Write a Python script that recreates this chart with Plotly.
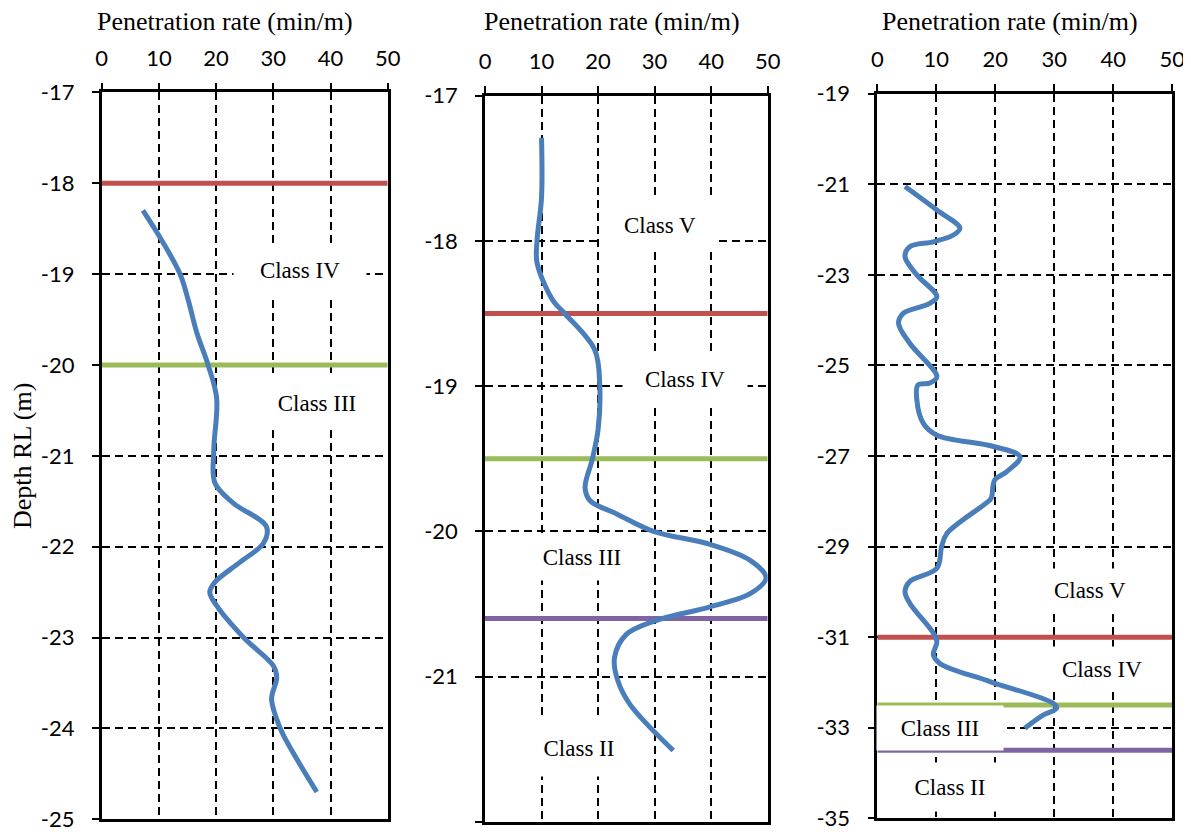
import plotly.graph_objects as go

# ---------------- data ----------------
# Panel 1
p1_rate = [7.2, 10.5, 13.7, 15.1, 16.6, 18.6, 20.1, 19.6, 19.8, 23.0, 28.8, 28.3, 24.2, 19.8, 18.9, 20.1, 24.8, 30.0, 30.6, 29.7, 30.6, 31.8, 37.6]
p1_depth = [-18.3, -18.63, -19.0, -19.28, -19.64, -20.0, -20.37, -20.93, -21.3, -21.52, -21.78, -21.96, -22.17, -22.39, -22.5, -22.65, -23.0, -23.31, -23.44, -23.67, -23.9, -24.08, -24.7]
p1_bounds = [-18.0, -20.0]
p1_bound_colors = ["#c0504d", "#9bbb59"]
p1_labels = ["Class IV", "Class III"]
p1_label_x = [34.7, 37.6]
p1_label_y = [-18.95, -20.42]
p1_yticks = [-17, -18, -19, -20, -21, -22, -23, -24, -25]

# Panel 2
p2_rate = [10.0, 10.0, 9.2, 9.2, 12.0, 14.1, 19.4, 20.3, 20.0, 19.0, 17.7, 18.6, 23.3, 29.8, 39.8, 46.9, 49.7, 46.9, 39.8, 29.8, 25.0, 22.9, 23.5, 25.6, 33.3]
p2_depth = [-17.29, -17.7, -18.0, -18.15, -18.41, -18.5, -18.75, -19.0, -19.3, -19.5, -19.7, -19.79, -19.88, -20.0, -20.09, -20.2, -20.32, -20.43, -20.52, -20.62, -20.71, -20.87, -21.03, -21.19, -21.51]
p2_bounds = [-18.5, -19.5, -20.6]
p2_bound_colors = ["#c0504d", "#9bbb59", "#8064a2"]
p2_labels = ["Class V", "Class IV", "Class III", "Class II"]
p2_label_x = [31.0, 35.4, 17.2, 16.6]
p2_label_y = [-17.89, -18.95, -20.18, -21.49]
p2_yticks = [-17, -18, -19, -20, -21, -22]

# Panel 3
p3_rate = [4.7, 10.1, 14.0, 12.9, 9.5, 5.5, 4.7, 6.7, 10.1, 8.9, 4.4, 3.6, 5.5, 10.1, 8.9, 6.9, 6.7, 7.8, 10.1, 19.7, 24.2, 21.9, 19.9, 19.4, 19.1, 11.8, 10.9, 10.1, 5.5, 4.7, 5.5, 9.5, 10.1, 9.5, 10.6, 19.1, 29.8, 30.4, 28.1, 25.0]
p3_depth = [-21.05, -21.57, -21.97, -22.12, -22.27, -22.38, -22.6, -23.0, -23.48, -23.63, -23.85, -24.07, -24.51, -25.25, -25.39, -25.43, -25.76, -26.28, -26.54, -26.79, -27.02, -27.35, -27.53, -27.9, -27.97, -28.71, -29.0, -29.48, -29.77, -30.0, -30.25, -30.91, -31.1, -31.39, -31.58, -31.98, -32.46, -32.57, -32.72, -33.01]
p3_bounds = [-31.0, -32.5, -33.5]
p3_bound_colors = ["#c0504d", "#9bbb59", "#8064a2"]
p3_labels = ["Class V", "Class IV", "Class III", "Class II"]
p3_label_x = [36.0, 38.1, 10.6, 12.3]
p3_label_y = [-29.96, -31.7, -33.0, -34.31]
p3_yticks = [-19, -21, -23, -25, -27, -29, -31, -33, -35]

x_ticks = [0, 10, 20, 30, 40, 50]
y_ranges = [[-25, -17], [-22, -17], [-35, -19]]
x_title = "Penetration rate (min/m)"
y_title = "Depth RL (m)"

# ---------------- layout helpers ----------------
PAGE_W, PAGE_H = 1191, 832
OFF = 8  # default body margin of the html page
W, H = PAGE_W - OFF, PAGE_H - OFF
px_boxes = [  # x0, x1, y0(top), y1(bottom) in page pixels
    (101.7, 387.7, 92.3, 819.3),
    (485.0, 767.7, 95.7, 821.7),
    (877.3, 1172.3, 93.7, 818.3),
]
title_px = [(225, 22), (612, 22), (1010, 22)]  # x-title centres in page pixels
# label box sizes (pixels) per panel
box_sizes = [
    [(132, 52), (124, 50)],
    [(116, 52), (124, 50), (124, 46), (116, 56)],
    [(116, 42), (124, 44), (126, 44), (116, 48)],
]

SERIF = "Liberation Serif, Times New Roman, serif"
SANS = "Lato, Carlito, Calibri, sans-serif"
BLUE = "#4a7ebb"

panels = [
    (p1_rate, p1_depth, p1_bounds, p1_bound_colors, p1_labels, p1_label_x, p1_label_y, p1_yticks),
    (p2_rate, p2_depth, p2_bounds, p2_bound_colors, p2_labels, p2_label_x, p2_label_y, p2_yticks),
    (p3_rate, p3_depth, p3_bounds, p3_bound_colors, p3_labels, p3_label_x, p3_label_y, p3_yticks),
]

fig = go.Figure()
annotations = []
layout = {}
for i, (rate, depth, bounds, bcols, labels, lx, ly, yt) in enumerate(panels):
    n = "" if i == 0 else str(i + 1)
    xa, ya = "x" + n, "y" + n
    for b, c in zip(bounds, bcols):
        fig.add_trace(go.Scatter(x=[x_ticks[0], x_ticks[-1]], y=[b, b], mode="lines",
                                 line=dict(color=c, width=5), xaxis=xa, yaxis=ya,
                                 showlegend=False, hoverinfo="skip"))
    fig.add_trace(go.Scatter(x=rate, y=depth, mode="lines",
                             line=dict(color=BLUE, width=5, shape="spline", smoothing=1.0),
                             xaxis=xa, yaxis=ya, showlegend=False))
    for j, (t, x, y) in enumerate(zip(labels, lx, ly)):
        w, h = box_sizes[i][j]
        annotations.append(dict(x=x, y=y, xref=xa, yref=ya, text=t, showarrow=False,
                                font=dict(family=SERIF, size=23, color="black"),
                                bgcolor="white", width=w, height=h, borderpad=0))
    tx, ty = title_px[i]
    annotations.append(dict(x=(tx - OFF) / W, y=1 - (ty - OFF) / H, xref="paper", yref="paper",
                            text=x_title, showarrow=False, xanchor="center", yanchor="middle",
                            font=dict(family=SERIF, size=26, color="black")))
    x0, x1, y0, y1 = [v - OFF for v in px_boxes[i]]
    layout["xaxis" + n] = dict(
        domain=[x0 / W, x1 / W], anchor=ya, side="top", range=[0, 50], automargin=False,
        tickvals=x_ticks, ticktext=[str(v) for v in x_ticks],
        ticks="outside", ticklen=7, tickwidth=2, tickcolor="black",
        showline=True, linewidth=2.5, linecolor="black", mirror=True,
        showgrid=True, gridcolor="black", griddash="8px,5px", gridwidth=1.5, zeroline=False,
        tickfont=dict(family=SANS, size=22, color="black"), ticklabelstandoff=8,
    )
    layout["yaxis" + n] = dict(
        domain=[1 - y1 / H, 1 - y0 / H], anchor=xa, range=y_ranges[i], automargin=False,
        tickvals=yt, ticktext=[str(v) for v in yt],
        ticks="outside", ticklen=7, tickwidth=2, tickcolor="black",
        showline=True, linewidth=2.5, linecolor="black", mirror=True,
        showgrid=True, gridcolor="black", griddash="8px,5px", gridwidth=1.5, zeroline=False,
        tickfont=dict(family=SANS, size=22, color="black"), ticklabelstandoff=13,
    )

layout["yaxis"]["title"] = dict(text=y_title, font=dict(family=SERIF, size=26, color="black"), standoff=12)

fig.update_layout(**layout)
fig.update_layout(width=W, height=H, margin=dict(l=0, r=0, t=0, b=0),
                  plot_bgcolor="white", paper_bgcolor="white", annotations=annotations)

fig.write_html("out.html")
